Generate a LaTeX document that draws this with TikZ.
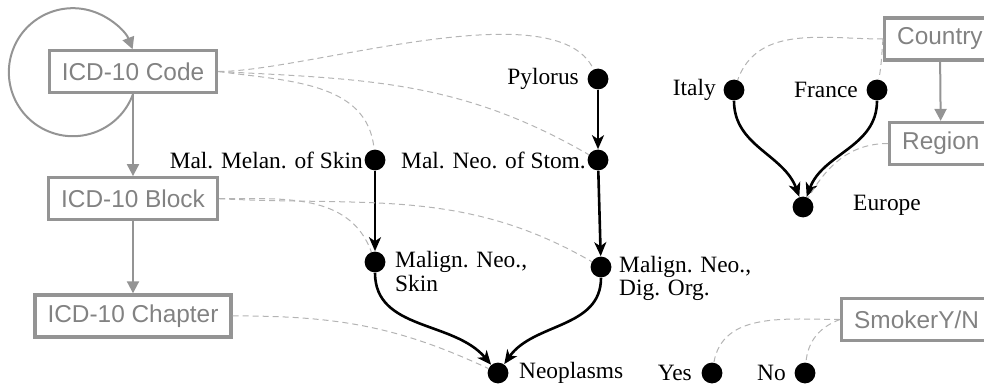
\documentclass[tikz,border=0pt]{standalone}
\usepackage{fontspec}
\setmainfont{Liberation Serif}
\setsansfont{Liberation Sans}
\usetikzlibrary{arrows.meta,positioning}
\definecolor{boxgray}{RGB}{148,148,148}
\definecolor{boxtext}{RGB}{130,130,130}
\definecolor{linkgray}{RGB}{180,180,180}
\tikzset{
  catbox/.style={draw=boxgray,line width=1.6pt,text=boxtext,
    font=\sffamily\fontsize{12.2}{14}\selectfont,inner xsep=6.3pt,minimum height=21pt},
  dot/.style={circle,fill=black,minimum size=10.4pt,inner sep=0pt},
  lbl/.style={font=\fontsize{11.7}{10}\selectfont,inner sep=1pt},
  twoline/.style={lbl,align=left,anchor=north west,yshift=6.4pt,label distance=3.5pt},
  hier/.style={draw=boxgray,line width=1pt,-{Triangle[length=6pt,width=6pt]}},
  rel/.style={line width=1.3pt,-{Stealth[length=7pt,width=6pt,inset=2pt]}},
  link/.style={draw=linkgray,line width=0.5pt,dash pattern=on 3pt off 2pt},
}

\begin{document}
\begin{tikzpicture}[x=0.5pt,y=-0.5pt]
  \useasboundingbox (0,0) rectangle (984,385);
  \clip (0,0) rectangle (984,385);
  % category hierarchy (grey boxes)
  \node[catbox] (code) at (133,71.5) {ICD-10 Code};
  \node[catbox,below=41pt of code] (block) {ICD-10 Block};
  \node[catbox,below=36pt of block] (chapter) {ICD-10 Chapter};
  \node[catbox,anchor=west] (country) at (883,39) {Country};
  \node[catbox,anchor=west] (region) at (888,143.5) {Region};
  \node[catbox,anchor=west] (smoker) at (840,319.5) {SmokerY/N};
  \draw[hier] (code.south) arc[start angle=-20,end angle=-339,radius=32pt];
  \draw[hier] (code) -- (block);
  \draw[hier] (block) -- (chapter);
  \draw[hier] (country) -- (region);
  % members (black dots)
  \node[dot,label={[lbl,label distance=3pt]left:Pylorus}] (pylorus) at (598,79) {};
  \node[dot,label={[lbl,label distance=-0.5pt]left:Mal. Melan. of Skin}] (melan) at (375,160) {};
  \node[dot,label={[lbl,label distance=-0.5pt]left:Mal. Neo. of Stom.}] (stom) at (598,160) {};
  \node[dot,label={[twoline]east:{Malign. Neo.,\\Skin}}] (skin) at (375,262) {};
  \node[dot,label={[twoline,label distance=2.5pt]east:{Malign. Neo.,\\Dig. Org.}}] (dig) at (601,267) {};
  \node[dot,label={[lbl,label distance=4pt]right:Neoplasms}] (neo) at (498,373) {};
  \node[dot,label={[lbl,label distance=3.5pt]left:Yes}] (yes) at (712,373) {};
  \node[dot,label={[lbl,label distance=3pt]left:No}] (no) at (805,373) {};
  \node[dot,label={[lbl,label distance=2.5pt]left:Italy}] (italy) at (734,90) {};
  \node[dot,label={[lbl,label distance=3pt]left:France}] (france) at (877,90) {};
  \node[dot,label={[lbl,label distance=18.5pt,yshift=1pt]right:Europe}] (europe) at (803,207) {};
  \draw[rel] (pylorus) -- (stom);
  \draw[rel] (melan) -- (skin);
  \draw[rel] (stom) -- (dig);
  \draw[rel] (skin) to[out=-90,in=130] (neo);
  \draw[rel] (dig) to[out=-90,in=55] (neo);
  \draw[rel] (italy) to[out=-90,in=110] (europe);
  \draw[rel] (france) to[out=-90,in=70] (europe);
  % member-of links
  \draw[link] (code.east) to[out=0,in=115,looseness=0.6] (pylorus);
  \draw[link] (code.east) to[out=-8,in=95] (melan);
  \draw[link] (code.east) to[out=-3,in=150] (stom);
  \draw[link] (block.east) to[out=0,in=110] (skin);
  \draw[link] (block.east) to[out=-3,in=150] (dig);
  \draw[link] (chapter.east) to[out=0,in=155] (neo);
  \draw[link] (country.west) to[out=180,in=70] (italy);
  \draw[link] (country.west) to[out=-95,in=80] (france);
  \draw[link] (region.west) to[out=180,in=60] (europe);
  \draw[link] (smoker.west) to[out=180,in=80] (yes);
  \draw[link] (smoker.west) to[out=200,in=85] (no);
\end{tikzpicture}
\end{document}
